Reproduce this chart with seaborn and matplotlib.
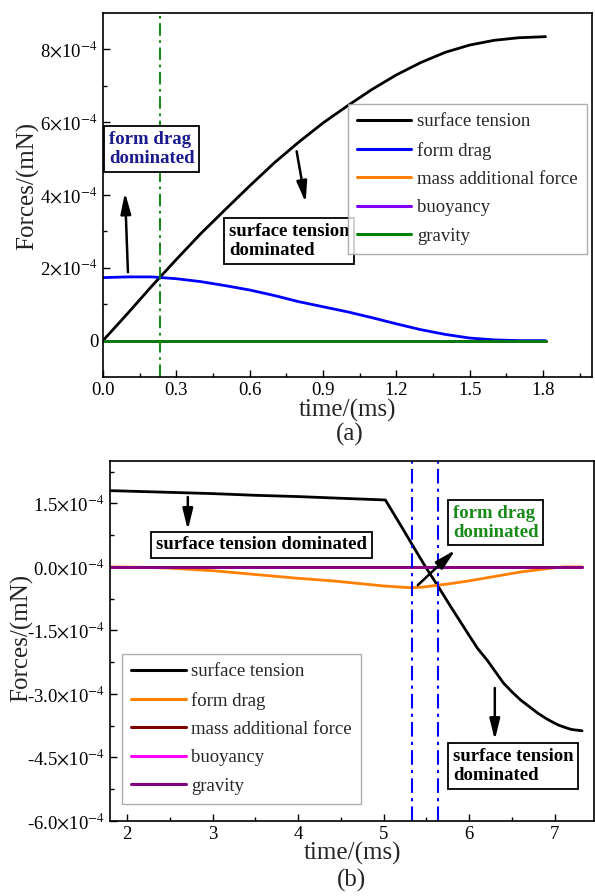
import numpy as np
import pandas as pd
import matplotlib
matplotlib.use("Agg")
import matplotlib.pyplot as plt
import seaborn as sns

# ---------------- data (panel a), forces in units of 1e-4 mN ----------------
t_a = [0.0, 0.1, 0.2, 0.3, 0.4, 0.5, 0.6, 0.7, 0.8, 0.9, 1.0, 1.1, 1.2, 1.3, 1.4, 1.5, 1.6, 1.7, 1.81]
surface_a = [0.0, 0.74, 1.50, 2.23, 2.94, 3.60, 4.25, 4.88, 5.45, 5.98, 6.45, 6.90, 7.30, 7.64, 7.92, 8.12, 8.25, 8.32, 8.35]
formdrag_a = [1.73, 1.75, 1.75, 1.70, 1.62, 1.51, 1.39, 1.24, 1.07, 0.93, 0.79, 0.63, 0.46, 0.30, 0.17, 0.07, 0.02, 0.0, 0.0]
massadd_a = [0.0] * len(t_a)
buoy_a = [0.0] * len(t_a)
grav_a = [0.0] * len(t_a)
vline_a = 0.233

series_a = ["surface tension", "form drag", "mass additional force", "buoyancy", "gravity"]
colors_a = ["#000000", "#0000ff", "#ff8000", "#8000ff", "#008000"]
xticks_a = [0.0, 0.3, 0.6, 0.9, 1.2, 1.5, 1.8]
yticks_a = [0, 2, 4, 6, 8]
yticklabels_a = ["0", r"2$\times$10$^{-4}$", r"4$\times$10$^{-4}$", r"6$\times$10$^{-4}$", r"8$\times$10$^{-4}$"]

# ---------------- data (panel b) ----------------
t_b_st = [1.8, 2.5, 3.0, 3.5, 4.0, 4.5, 5.02, 5.2, 5.35, 5.49, 5.64, 5.81, 6.01, 6.1, 6.21, 6.40, 6.5,
          6.60, 6.80, 6.9, 6.98, 7.05, 7.15, 7.2, 7.32]
surface_b = [1.80, 1.76, 1.73, 1.69, 1.66, 1.62, 1.58, 0.98, 0.47, 0.0, -0.47, -1.02, -1.65, -1.93, -2.20,
             -2.74, -2.95, -3.14, -3.45, -3.58, -3.67, -3.74, -3.81, -3.84, -3.87]
t_b_fd = [1.8, 2.2, 2.5, 3.0, 3.5, 4.0, 4.4, 4.7, 5.0, 5.3, 5.45, 5.64, 5.8, 6.0, 6.2, 6.4, 6.6, 6.8, 7.0, 7.1, 7.32]
formdrag_b = [0.0, -0.01, -0.03, -0.09, -0.18, -0.27, -0.33, -0.39, -0.45, -0.49, -0.48, -0.43, -0.39, -0.33,
              -0.26, -0.19, -0.12, -0.07, -0.02, 0.0, 0.0]
t_b_zero = [1.8, 7.32]
massadd_b = [0.0, 0.0]
buoy_b = [0.0, 0.0]
grav_b = [0.0, 0.0]
vlines_b = [5.33, 5.64]

series_b = ["surface tension", "form drag", "mass additional force", "buoyancy", "gravity"]
colors_b = ["#000000", "#ff8000", "#800000", "#ff00ff", "#800080"]
xticks_b = [2, 3, 4, 5, 6, 7]
yticks_b = [1.5, 0.0, -1.5, -3.0, -4.5, -6.0]
yticklabels_b = [r"1.5$\times$10$^{-4}$", r"0.0$\times$10$^{-4}$", r"-1.5$\times$10$^{-4}$",
                 r"-3.0$\times$10$^{-4}$", r"-4.5$\times$10$^{-4}$", r"-6.0$\times$10$^{-4}$"]

# ---------------- style ----------------
sns.set_theme(style="ticks")
plt.rcParams["font.family"] = ["Liberation Serif", "DejaVu Serif"]
plt.rcParams["mathtext.fontset"] = "stix"
plt.rcParams["axes.linewidth"] = 1.2

def long_df(parts):
    frames = []
    for name, t, v in parts:
        frames.append(pd.DataFrame({"t": t, "F": v, "series": name}))
    return pd.concat(frames, ignore_index=True)

df_a = long_df([(series_a[0], t_a, surface_a), (series_a[1], t_a, formdrag_a),
                (series_a[2], t_a, massadd_a), (series_a[3], t_a, buoy_a),
                (series_a[4], t_a, grav_a)])
df_b = long_df([(series_b[0], t_b_st, surface_b), (series_b[1], t_b_fd, formdrag_b),
                (series_b[2], t_b_zero, massadd_b), (series_b[3], t_b_zero, buoy_b),
                (series_b[4], t_b_zero, grav_b)])

fig = plt.figure(figsize=(5.95, 8.96), dpi=100)
W, H = 595.0, 896.0
ax_a = fig.add_axes([103 / W, 1 - 377 / H, 489 / W, 364 / H])
ax_b = fig.add_axes([110 / W, 1 - 821 / H, 484 / W, 360 / H])

def style_axes(ax):
    for s in ax.spines.values():
        s.set_visible(True)
        s.set_color("black")
        s.set_linewidth(1.2)
    ax.tick_params(which="both", direction="in", top=False, right=False, colors="black",
                   labelsize=13.5, width=1.0)
    ax.tick_params(which="major", length=5)
    ax.tick_params(which="minor", length=3)
    ax.grid(False)

box = dict(boxstyle="square,pad=0.25", fc="white", ec="black", lw=1.3)
arrow = dict(arrowstyle="-|>,head_length=0.9,head_width=0.22", color="black", lw=1.8,
             shrinkA=0, shrinkB=0, mutation_scale=14)

def make_legend(ax, loc, anchor):
    h, l = ax.get_legend_handles_labels()
    leg = ax.legend(h, l, loc=loc, bbox_to_anchor=anchor, frameon=True,
                    fancybox=False, edgecolor="#9a9a9a", fontsize=13.5, handlelength=2.9,
                    handletextpad=0.3, labelspacing=0.6, borderpad=0.5, borderaxespad=0)
    leg.get_frame().set_linewidth(1.0)
    for line in leg.get_lines():
        line.set_linewidth(2.2)

# ---------------- panel a ----------------
sns.lineplot(data=df_a, x="t", y="F", hue="series", hue_order=series_a,
             palette=dict(zip(series_a, colors_a)), estimator=None, sort=False,
             linewidth=2.0, ax=ax_a)
ax_a.axvline(vline_a, color="#008000", lw=1.3, ls=(0, (7, 2.5, 1.5, 2.5)))
ax_a.set_xlim(0, 2.0)
ax_a.set_ylim(-1.0, 9.0)
ax_a.set_xticks(xticks_a)
ax_a.set_xticklabels([f"{v:.1f}" for v in xticks_a])
ax_a.set_xticks(np.arange(0.15, 2.0, 0.3), minor=True)
ax_a.set_yticks(yticks_a)
ax_a.set_yticklabels(yticklabels_a)
ax_a.set_yticks([1, 3, 5, 7], minor=True)
style_axes(ax_a)
ax_a.set_xlabel("time/(ms)", fontsize=18)
ax_a.set_ylabel("Forces/(mN)", fontsize=18)
ax_a.xaxis.set_label_coords(0.5, (377 - 410) / 364)
ax_a.xaxis.label.set_va("center")
ax_a.yaxis.set_label_coords((28 - 103) / 489, (377 - 186) / 364)
ax_a.yaxis.label.set_va("center")
make_legend(ax_a, "upper right", (0.99, 0.75))

ax_a.text(0.025, 5.26, "form drag\ndominated", color="#1a1a8c", fontsize=13.5, fontweight="bold",
          ha="left", va="center", bbox=box, linespacing=1.15)
ax_a.annotate("", xy=(0.090, 4.07), xytext=(0.102, 1.88), arrowprops=arrow)
ax_a.text(0.515, 2.74, "surface tension\ndominated", color="black", fontsize=13.5, fontweight="bold",
          ha="left", va="center", bbox=box, linespacing=1.15)
ax_a.annotate("", xy=(0.829, 3.79), xytext=(0.792, 5.2), arrowprops=arrow)

# ---------------- panel b ----------------
sns.lineplot(data=df_b, x="t", y="F", hue="series", hue_order=series_b,
             palette=dict(zip(series_b, colors_b)), estimator=None, sort=False,
             linewidth=2.0, ax=ax_b)
for xv in vlines_b:
    ax_b.axvline(xv, color="#0000ff", lw=1.5, ls=(0, (7, 2.5, 1.5, 2.5)))
ax_b.set_xlim(1.8, 7.46)
ax_b.set_ylim(-6.0, 2.5)
ax_b.set_xticks(xticks_b)
ax_b.set_xticklabels([str(v) for v in xticks_b])
ax_b.set_xticks(np.arange(2.5, 7.5, 1.0), minor=True)
ax_b.set_yticks(yticks_b)
ax_b.set_yticklabels(yticklabels_b)
ax_b.set_yticks([2.25, 0.75, -0.75, -2.25, -3.75, -5.25], minor=True)
style_axes(ax_b)
ax_b.set_xlabel("time/(ms)", fontsize=18)
ax_b.set_ylabel("Forces/(mN)", fontsize=18)
ax_b.xaxis.set_label_coords(0.5, (821 - 853) / 360)
ax_b.xaxis.label.set_va("center")
ax_b.yaxis.set_label_coords((22 - 110) / 484, (821 - 638) / 360)
ax_b.yaxis.label.set_va("center")
make_legend(ax_b, "lower left", (0.025, 0.047))

ax_b.text(2.34, 0.52, "surface tension dominated", color="black", fontsize=13.5, fontweight="bold",
          ha="left", va="center", bbox=box)
ax_b.annotate("", xy=(2.71, 0.87), xytext=(2.71, 1.65), arrowprops=arrow)
ax_b.text(5.81, 1.04, "form drag\ndominated", color="#1a8a1a", fontsize=13.5, fontweight="bold",
          ha="left", va="center", bbox=box, linespacing=1.15)
ax_b.annotate("", xy=(5.84, 0.40), xytext=(5.40, -0.43), arrowprops=arrow)
ax_b.text(5.81, -4.70, "surface tension\ndominated", color="black", fontsize=13.5, fontweight="bold",
          ha="left", va="center", bbox=box, linespacing=1.15)
ax_b.annotate("", xy=(6.30, -4.09), xytext=(6.30, -2.86), arrowprops=arrow)

fig.text(350 / W, 1 - 434 / H, "(a)", ha="center", va="center", fontsize=18)
fig.text(352 / W, 1 - 880 / H, "(b)", ha="center", va="center", fontsize=18)

fig.savefig("out.png", dpi=100)
